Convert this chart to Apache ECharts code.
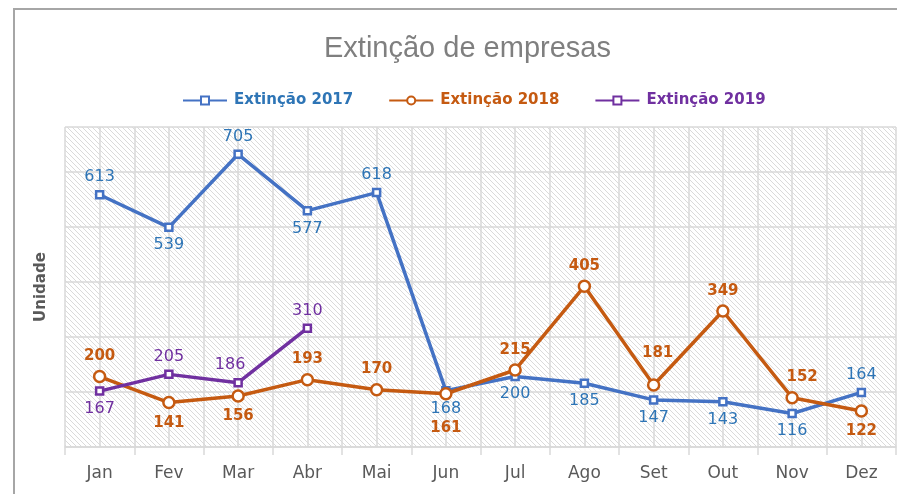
<!DOCTYPE html>
<html>
<head>
<meta charset="utf-8">
<script src="https://cdn.jsdelivr.net/npm/echarts@6/dist/echarts.min.js"></script>
<style>
  html, body { margin: 0; padding: 0; background: #fff; overflow: hidden; }
  #chart { width: 897px; height: 494px; }
</style>
</head>
<body>
<div id="chart"></div>
<script>
const months = ['Jan', 'Fev', 'Mar', 'Abr', 'Mai', 'Jun', 'Jul', 'Ago', 'Set', 'Out', 'Nov', 'Dez'];
const ext2017 = [613, 539, 705, 577, 618, 168, 200, 185, 147, 143, 116, 164];
const ext2018 = [200, 141, 156, 193, 170, 161, 215, 405, 181, 349, 152, 122];
const ext2019 = [167, 205, 186, 310];

// where each data label sits (kept apart from the values)
const pos2017 = ['top', 'bottom', 'top', 'bottom', 'top', 'bottom', 'bottom', 'bottom', 'bottom', 'bottom', 'bottom', 'top'];
const pos2018 = ['top', 'bottom', 'bottom', 'top', 'top', 'bottom', 'top', 'top', 'top', 'top', 'top', 'bottom'];
const pos2019 = ['bottom', 'top', 'top', 'top'];
const off2018 = { 5: [0, 14], 8: [4, -12], 10: [10, 0] };
const off2019 = { 2: [-8, 0] };

const BLUE = '#4472c4', ORANGE = '#c55a11', PURPLE = '#7030a0';

// diagonal hatch for plot background
const hatch = document.createElement('canvas');
hatch.width = 5; hatch.height = 5;
const hctx = hatch.getContext('2d');
hctx.fillStyle = '#ffffff';
hctx.fillRect(0, 0, 5, 5);
hctx.strokeStyle = '#dadada';
hctx.lineWidth = 1;
hctx.beginPath();
hctx.moveTo(-1, -1); hctx.lineTo(6, 6);
hctx.moveTo(-1, 4); hctx.lineTo(1, 6);
hctx.moveTo(4, -1); hctx.lineTo(6, 1);
hctx.stroke();

function withLabels(values, positions, offsets) {
  return values.map((v, i) => {
    const label = { position: positions[i] };
    if (offsets[i]) label.offset = offsets[i];
    return { value: v, label };
  });
}

const chart = echarts.init(document.getElementById('chart'));

chart.setOption({
  animation: false,
  backgroundColor: '#fff',
  textStyle: { fontFamily: 'DejaVu Sans' },
  graphic: [{
    type: 'polyline',
    shape: { points: [[14, 494], [14, 9], [897, 9]] },
    style: { fill: null, stroke: '#a6a6a6', lineWidth: 2 },
    silent: true
  }],
  title: {
    text: 'Extinção de empresas',
    left: 319,
    top: 29,
    textStyle: { fontFamily: 'Liberation Sans', fontSize: 29, fontWeight: 'normal', color: '#7f7f7f' }
  },
  legend: {
    top: 88,
    left: 177,
    itemWidth: 44,
    itemHeight: 10,
    itemGap: 35,
    textStyle: { fontFamily: 'DejaVu Sans', fontSize: 15, fontWeight: 'bold', padding: [0, 0, 0, 2] },
    data: [
      { name: 'Extinção 2017', textStyle: { color: '#2e75b6' } },
      { name: 'Extinção 2018', textStyle: { color: ORANGE } },
      { name: 'Extinção 2019', textStyle: { color: PURPLE } }
    ]
  },
  grid: {
    left: 65,
    top: 127,
    width: 831,
    height: 320,
    show: true,
    borderWidth: 0,
    backgroundColor: { image: hatch, repeat: 'repeat' }
  },
  xAxis: [{
    type: 'category',
    data: months,
    boundaryGap: true,
    axisLine: { lineStyle: { color: '#d9d9d9', width: 1.5 } },
    axisTick: { show: true, interval: 0, length: 8, lineStyle: { color: '#d9d9d9', width: 1.5 } },
    axisLabel: { color: '#595959', fontSize: 17, margin: 18, interval: 0 },
    splitLine: { show: false }
  }, {
    type: 'value',
    min: 0,
    max: 12,
    interval: 0.5,
    position: 'bottom',
    axisLine: { show: false },
    axisTick: { show: false },
    axisLabel: { show: false },
    splitLine: { show: true, lineStyle: { color: '#d9d9d9', width: 1.5 } }
  }],
  yAxis: {
    type: 'value',
    min: 40,
    max: 767,
    interval: 125,
    name: 'Unidade',
    nameLocation: 'middle',
    nameGap: 16,
    nameTextStyle: { fontFamily: 'DejaVu Sans', fontSize: 15, fontWeight: 'bold', color: '#595959' },
    axisLine: { show: false },
    axisTick: { show: false },
    axisLabel: { show: false },
    splitLine: { show: true, lineStyle: { color: '#d9d9d9', width: 1.5 } }
  },
  series: [{
    name: 'Extinção 2017',
    type: 'line',
    data: withLabels(ext2017, pos2017, {}),
    symbol: 'rect',
    symbolSize: 7,
    itemStyle: { color: '#fff', borderColor: BLUE, borderWidth: 2.5 },
    lineStyle: { color: BLUE, width: 3.5 },
    label: { show: true, color: '#2e75b6', fontSize: 16, distance: 5 },
    z: 3
  }, {
    name: 'Extinção 2018',
    type: 'line',
    data: withLabels(ext2018, pos2018, off2018),
    symbol: 'circle',
    symbolSize: 11,
    itemStyle: { color: '#fff', borderColor: ORANGE, borderWidth: 2.5 },
    lineStyle: { color: ORANGE, width: 3.5 },
    label: { show: true, color: ORANGE, fontSize: 15, fontWeight: 'bold', distance: 6 },
    z: 4
  }, {
    name: 'Extinção 2019',
    type: 'line',
    data: withLabels(ext2019, pos2019, off2019),
    symbol: 'rect',
    symbolSize: 7,
    itemStyle: { color: '#fff', borderColor: PURPLE, borderWidth: 2.5 },
    lineStyle: { color: PURPLE, width: 3.5 },
    label: { show: true, color: PURPLE, fontSize: 16, distance: 5 },
    z: 5
  }]
});
</script>
</body>
</html>
